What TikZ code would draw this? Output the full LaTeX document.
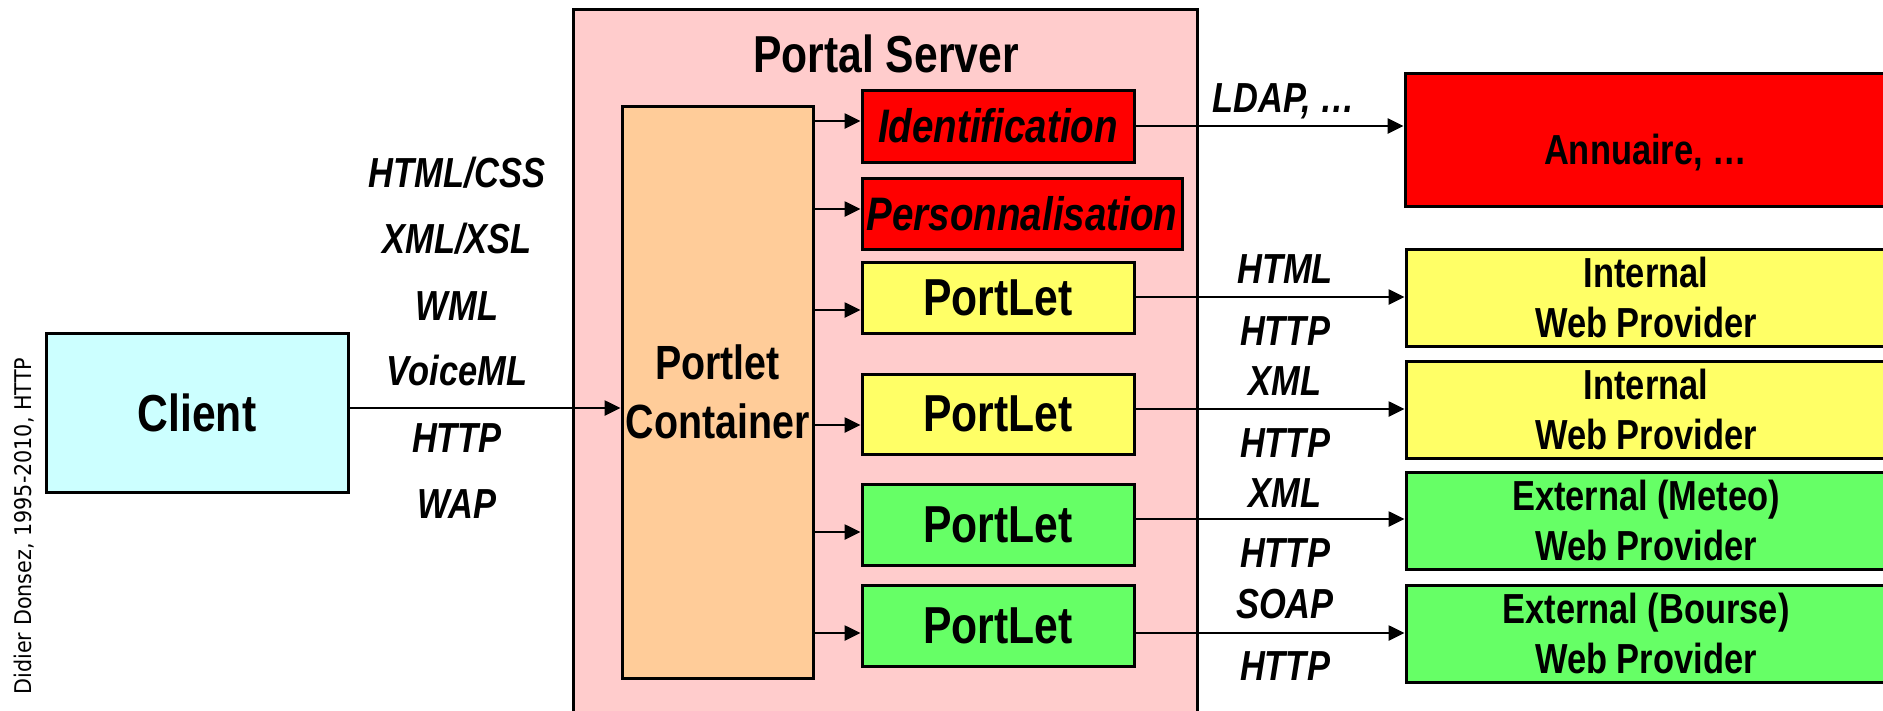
\documentclass[tikz,border=0pt]{standalone}
\usepackage{fontspec}
\usetikzlibrary{arrows.meta}
\newfontfamily\nar[FakeStretch=0.82]{Liberation Sans}
\newfontfamily\creditfont[FakeStretch=0.9]{DejaVu Sans}
\definecolor{portalbg}{HTML}{FFCCCC}
\definecolor{contbg}{HTML}{FFCC99}
\definecolor{clientbg}{HTML}{CCFFFF}
\definecolor{redbox}{HTML}{FF0000}
\definecolor{yelbox}{HTML}{FFFF66}
\definecolor{grnbox}{HTML}{66FF66}
\begin{document}
\begin{tikzpicture}[x=1pt,y=-1pt,
  box/.style={draw=black, line width=3pt, inner sep=0pt, align=center,
    font=\nar\bfseries\fontsize{52}{60}\selectfont},
  ibox/.style={box, font=\nar\bfseries\itshape\fontsize{47}{56}\selectfont},
  pbox/.style={box, font=\nar\bfseries\fontsize{42}{50}\selectfont},
  arr/.style={line width=2.6pt, -{Triangle[length=16pt,width=15pt]}},
  lbl/.style={font=\nar\bfseries\itshape\fontsize{42}{50}\selectfont, inner sep=0pt, anchor=base},
]
\useasboundingbox (0,0) rectangle (1883,710);
\fill[white] (0,0) rectangle (1883,710);

% credit
\node[font=\creditfont\fontsize{23}{26}\selectfont, rotate=90, inner sep=0pt] (credit) at (24,526) {Didier Donsez, 1995-2010, HTTP};

% client
\node[box, fill=clientbg, minimum width=302pt, minimum height=159pt] (client) at (197,412.5) {Client};

% portal server
\node[box, fill=portalbg, minimum width=624pt, minimum height=721pt] (portal) at (885,369.5) {};
\node[font=\nar\bfseries\fontsize{52}{60}\selectfont, inner sep=0pt, anchor=base] (title) at (886,72) {Portal Server};

% container
\node[box, fill=contbg, minimum width=191pt, minimum height=572pt,
  font=\nar\bfseries\fontsize{48}{59}\selectfont] (pc) at (717.5,392) {Portlet\\Container};

% inner boxes
\node[ibox, fill=redbox, minimum width=272pt, minimum height=72pt] (ident) at (998,126) {Identification};
\node[ibox, fill=redbox, minimum width=320pt, minimum height=71pt] (perso) at (1022,213.5) {Personnalisation};
\node[box, fill=yelbox, minimum width=272pt, minimum height=71pt] (pl1) at (998,297.5) {PortLet};
\node[box, fill=yelbox, minimum width=272pt, minimum height=80pt] (pl2) at (998,414) {PortLet};
\node[box, fill=grnbox, minimum width=272pt, minimum height=81pt] (pl3) at (998,524.5) {PortLet};
\node[box, fill=grnbox, minimum width=272pt, minimum height=81pt] (pl4) at (998,625.5) {PortLet};

% right boxes
\node[pbox, fill=redbox, minimum width=481pt, minimum height=133pt, text height=50pt, text depth=0pt] (ann) at (1645.5,139.5) {Annuaire, …};
\node[pbox, fill=yelbox, minimum width=480pt, minimum height=97pt] (int1) at (1646,297.5) {Internal\\Web Provider};
\node[pbox, fill=yelbox, minimum width=480pt, minimum height=97pt] (int2) at (1646,409.5) {Internal\\Web Provider};
\node[pbox, fill=grnbox, minimum width=480pt, minimum height=97pt] (ext1) at (1646,520.5) {External (Meteo)\\Web Provider};
\node[pbox, fill=grnbox, minimum width=480pt, minimum height=97pt] (ext2) at (1646,633.5) {External (Bourse)\\Web Provider};

% arrows
\draw[arr] (client.east |- 0,408) -- (pc.west |- 0,408);
\draw[arr] (pc.east |- 0,121) -- (ident.west |- 0,121);
\draw[arr] (pc.east |- 0,209) -- (perso.west |- 0,209);
\draw[arr] (pc.east |- 0,310) -- (pl1.west |- 0,310);
\draw[arr] (pc.east |- 0,425) -- (pl2.west |- 0,425);
\draw[arr] (pc.east |- 0,532) -- (pl3.west |- 0,532);
\draw[arr] (pc.east |- 0,633) -- (pl4.west |- 0,633);
\draw[arr] (ident.east |- 0,126) -- (ann.west |- 0,126);
\draw[arr] (pl1.east |- 0,297) -- (int1.west |- 0,297);
\draw[arr] (pl2.east |- 0,409) -- (int2.west |- 0,409);
\draw[arr] (pl3.east |- 0,519) -- (ext1.west |- 0,519);
\draw[arr] (pl4.east |- 0,633) -- (ext2.west |- 0,633);

% left labels
\node[lbl] (l1) at (457,187) {HTML/CSS};
\node[lbl] (l2) at (457,253) {XML/XSL};
\node[lbl] (l3) at (457,320) {WML};
\node[lbl] (l4) at (457,385) {VoiceML};
\node[lbl] (l5) at (457,452) {HTTP};
\node[lbl] (l6) at (457,518) {WAP};

% right labels
\node[lbl] (r0) at (1284,112) {LDAP, …};
\node[lbl] (r1) at (1285,283) {HTML};
\node[lbl] (r2) at (1285,345) {HTTP};
\node[lbl] (r3) at (1285,395) {XML};
\node[lbl] (r4) at (1285,457) {HTTP};
\node[lbl] (r5) at (1285,507) {XML};
\node[lbl] (r6) at (1285,567) {HTTP};
\node[lbl] (r7) at (1285,618) {SOAP};
\node[lbl] (r8) at (1285,680) {HTTP};
\end{tikzpicture}
\end{document}
